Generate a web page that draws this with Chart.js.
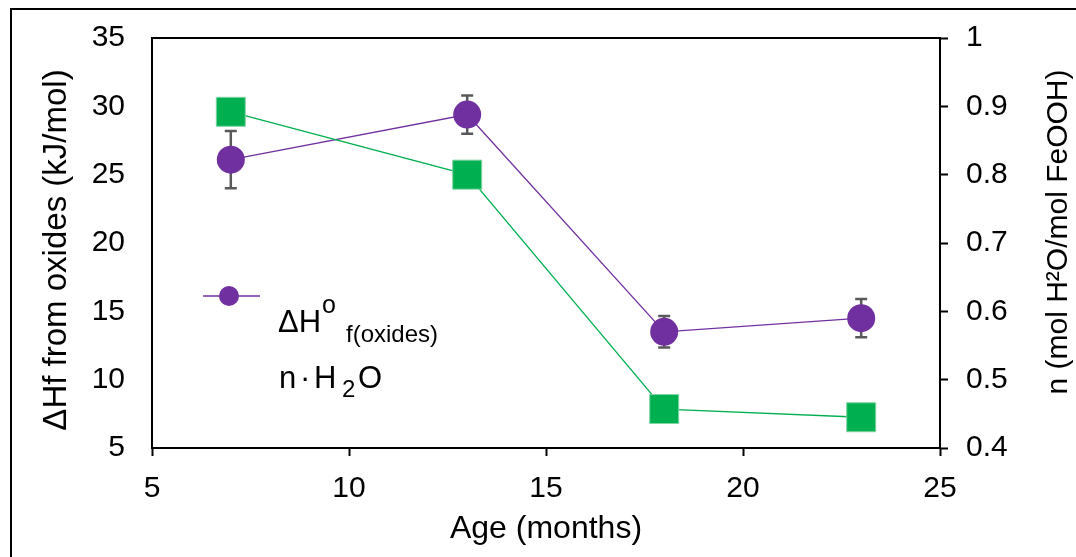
<!DOCTYPE html>
<html>
<head>
<meta charset="utf-8">
<script src="https://cdn.jsdelivr.net/npm/chart.js@4.4.0/dist/chart.umd.min.js"></script>
<style>
  html, body { margin: 0; padding: 0; background: #fff; }
  #wrap { position: relative; width: 1076px; height: 557px; }
</style>
</head>
<body>
<div id="wrap"><canvas id="chart" width="1076" height="557"></canvas></div>
<script>
// sample age in months
const ages = [7, 13, 18, 23];
// enthalpy of formation from oxides, kJ/mol, with error
const dHf = [26.1, 29.4, 13.5, 14.5];
const dHfErr = [2.1, 1.4, 1.15, 1.4];
// water content, mol H2O per mol FeOOH
const nH2O = [0.892, 0.800, 0.457, 0.445];

const xTicks = [5, 10, 15, 20, 25];
const leftTicks = [5, 10, 15, 20, 25, 30, 35];
const rightTicks = [0.4, 0.5, 0.6, 0.7, 0.8, 0.9, 1];

const FONT = "'Liberation Sans', Arial, sans-serif";
const PURPLE = '#7030A0';
const GREEN = '#00B050';

Chart.defaults.font.family = FONT;
Chart.defaults.color = '#000';

const frame = {
  id: 'frame',
  beforeDraw(chart) {
    const ctx = chart.ctx;
    ctx.save();
    ctx.fillStyle = '#fff';
    ctx.fillRect(0, 0, chart.width, chart.height);
    ctx.strokeStyle = '#000';
    ctx.lineWidth = 2;
    ctx.beginPath();
    ctx.moveTo(11, chart.height);
    ctx.lineTo(11, 9);
    ctx.lineTo(chart.width, 9);
    ctx.stroke();
    ctx.restore();
  },
  afterDraw(chart) {
    const {ctx, chartArea: a} = chart;
    ctx.save();
    ctx.strokeStyle = '#000';
    ctx.lineWidth = 2;
    ctx.beginPath();
    ctx.moveTo(a.left, a.top);
    ctx.lineTo(a.right, a.top);
    ctx.stroke();

    // both side titles read bottom-to-top
    ctx.fillStyle = '#000';
    ctx.textAlign = 'center';
    ctx.textBaseline = 'middle';
    ctx.font = '33px ' + FONT;
    ctx.translate(57, 250);
    ctx.rotate(-Math.PI / 2);
    ctx.fillText('ΔHf from oxides (kJ/mol)', 0, 0);
    ctx.setTransform(1, 0, 0, 1, 0, 0);
    ctx.font = '30px ' + FONT;
    ctx.translate(1059, 232);
    ctx.rotate(-Math.PI / 2);
    ctx.fillText('n (mol H²O/mol FeOOH)', 0, 0);
    ctx.restore();
  }
};

const errorBars = {
  id: 'errorBars',
  beforeDatasetsDraw(chart) {
    const {ctx, scales: {x, y}} = chart;
    ctx.save();
    ctx.strokeStyle = '#595959';
    ctx.lineWidth = 2.5;
    ages.forEach((a, i) => {
      const px = x.getPixelForValue(a);
      const hi = y.getPixelForValue(dHf[i] + dHfErr[i]);
      const lo = y.getPixelForValue(dHf[i] - dHfErr[i]);
      ctx.beginPath();
      ctx.moveTo(px, hi); ctx.lineTo(px, lo);
      ctx.moveTo(px - 6, hi); ctx.lineTo(px + 6, hi);
      ctx.moveTo(px - 6, lo); ctx.lineTo(px + 6, lo);
      ctx.stroke();
    });
    ctx.restore();
  }
};

// in-plot key: one marker row, then the two series names
const key = {
  id: 'key',
  afterDraw(chart) {
    const ctx = chart.ctx;
    ctx.save();
    ctx.strokeStyle = PURPLE;
    ctx.lineWidth = 1.3;
    ctx.beginPath();
    ctx.moveTo(203, 296); ctx.lineTo(260, 296);
    ctx.stroke();
    ctx.fillStyle = PURPLE;
    ctx.beginPath();
    ctx.arc(229, 296, 10, 0, Math.PI * 2);
    ctx.fill();

    ctx.fillStyle = '#000';
    ctx.textBaseline = 'alphabetic';
    ctx.textAlign = 'left';
    ctx.font = '31px ' + FONT;
    ctx.fillText('ΔH', 278, 332);
    ctx.font = '25px ' + FONT;
    ctx.fillText('o', 322, 313);
    ctx.font = '24px ' + FONT;
    ctx.fillText('f(oxides)', 346, 342);

    ctx.font = '31px ' + FONT;
    ctx.fillText('n', 279, 388);
    ctx.fillText('·', 300, 388);
    ctx.fillText('H', 314, 388);
    ctx.font = '24px ' + FONT;
    ctx.fillText('2', 342, 397);
    ctx.font = '31px ' + FONT;
    ctx.fillText('O', 358, 388);
    ctx.restore();
  }
};

const fixedTicks = list => scale => {
  scale.ticks = list.map(v => ({value: v}));
};
const noPad = w => s => {
  s.width = w;
  s.paddingTop = 0;
  s.paddingBottom = 0;
};

new Chart(document.getElementById('chart').getContext('2d'), {
  type: 'line',
  data: {
    datasets: [{
      label: 'n·H2O',
      data: ages.map((a, i) => ({x: a, y: nH2O[i]})),
      yAxisID: 'y1',
      borderColor: GREEN,
      borderWidth: 1.3,
      backgroundColor: GREEN,
      pointStyle: 'rect',
      pointRadius: 20.5,
      pointHoverRadius: 20.5,
      pointBackgroundColor: GREEN,
      pointBorderColor: '#7fd4a2',
      pointBorderWidth: 1,
      tension: 0
    }, {
      label: 'ΔHf(oxides)',
      data: ages.map((a, i) => ({x: a, y: dHf[i]})),
      yAxisID: 'y',
      borderColor: PURPLE,
      borderWidth: 1.3,
      backgroundColor: PURPLE,
      pointStyle: 'circle',
      pointRadius: 14,
      pointHoverRadius: 14,
      pointBackgroundColor: PURPLE,
      pointBorderColor: PURPLE,
      pointBorderWidth: 0,
      tension: 0
    }]
  },
  options: {
    responsive: false,
    animation: false,
    events: [],
    layout: {padding: {top: 38, left: 0, right: 0, bottom: 0}},
    plugins: {legend: {display: false}, tooltip: {enabled: false}},
    scales: {
      x: {
        type: 'linear',
        position: 'bottom',
        min: 5, max: 25,
        afterBuildTicks: fixedTicks(xTicks),
        afterFit: s => { s.height = 109; },
        grid: {display: true, drawOnChartArea: false, drawTicks: true, tickLength: 8, tickWidth: 2, tickColor: '#000'},
        border: {display: true, color: '#000', width: 2},
        ticks: {font: {size: 30}, color: '#000', padding: 15, maxRotation: 0},
        title: {display: true, text: 'Age (months)', font: {size: 32}, color: '#000', padding: {top: 0, bottom: 9}}
      },
      y: {
        type: 'linear',
        position: 'left',
        min: 5, max: 35,
        afterBuildTicks: fixedTicks(leftTicks),
        afterFit: noPad(152),
        grid: {display: true, drawOnChartArea: false, drawTicks: false},
        border: {display: true, color: '#000', width: 2},
        ticks: {font: {size: 30}, color: '#000', padding: 27}
      },
      y1: {
        type: 'linear',
        position: 'right',
        min: 0.4, max: 1,
        afterBuildTicks: fixedTicks(rightTicks),
        afterFit: noPad(136),
        grid: {display: true, drawOnChartArea: false, drawTicks: true, tickLength: 8, tickWidth: 2, tickColor: '#000'},
        border: {display: true, color: '#000', width: 2},
        ticks: {font: {size: 30}, color: '#000', padding: 18, callback: v => String(v)}
      }
    }
  },
  plugins: [frame, errorBars, key]
});
</script>
</body>
</html>
